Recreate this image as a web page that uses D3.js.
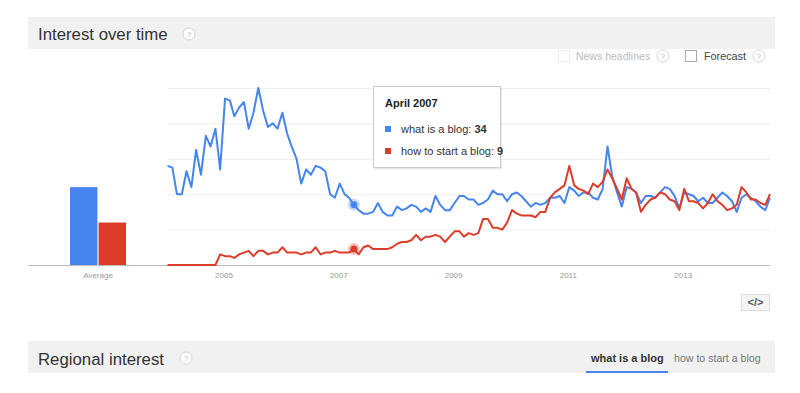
<!DOCTYPE html>
<html>
<head>
<meta charset="utf-8">
<script src="https://cdn.jsdelivr.net/npm/d3@7"></script>
<style>
  body { margin: 0; background: #fff; }
  svg { display: block; font-family: "Liberation Sans", Arial, sans-serif; }
</style>
</head>
<body>
<svg class="trends" width="800" height="393"></svg>
<script>
// monthly values, Jan 2004 .. Jul 2014
var seriesNames = ["what is a blog", "how to start a blog"];
var colors = ["#4684ee", "#dc3d2a"];
var averages = [44, 24];
var blogWhat = [56,55,40,40,53,44,65,51,73,67,77,54,
  94,93,84,89,92,77,86,100,87,78,80,77,
  86,74,67,60,46,54,51,56,55,53,40,38,
  46,40,38,34,31,29,29,30,35,30,28,28,
  33,31,32,34,33,30,32,30,39,34,31,31,
  35,39,39,37,37,34,35,37,42,40,40,36,
  40,41,39,36,33,35,34,35,38,38,39,35,
  44,42,39,41,41,38,37,43,67,50,41,33,
  44,43,41,35,39,39,38,41,44,43,39,32,
  41,40,39,36,38,35,35,38,41,39,36,30,
  38,40,38,36,33,31,38];
var blogStart = [0,0,0,0,0,0,0,0,0,0,0,6,
  5,5,4,6,7,8,5,8,8,6,7,7,
  10,7,7,7,6,7,7,10,6,7,7,8,
  7,7,7,9,6,10,11,9,9,9,9,10,
  12,13,13,14,17,14,16,16,17,16,13,16,
  19,19,16,18,17,18,26,26,21,21,20,24,
  31,29,28,28,28,27,30,30,38,41,43,45,
  56,45,43,42,40,46,44,47,54,49,43,37,
  49,43,41,30,34,37,38,41,40,37,36,31,
  43,36,36,35,32,35,40,36,34,31,32,34,
  44,41,37,37,35,34,40];
var yearTicks = [2005, 2007, 2009, 2011, 2013];
var hoverIndex = 39; // April 2007

var months = blogWhat.map(function(d, i) { return new Date(2004, i, 1); });

var svg = d3.select('.trends');

var x = d3.scaleTime()
  .domain([months[0], months[months.length - 1]])
  .range([167.5, 770]);
var y = d3.scaleLinear().domain([0, 100]).range([265, 88]);

function helpIcon(g, cx, cy) {
  g.append('circle').attr('cx', cx).attr('cy', cy).attr('r', 6)
    .attr('fill', '#fff').attr('stroke', '#d4d4d4');
  g.append('text').attr('x', cx).attr('y', cy + 3).attr('text-anchor', 'middle')
    .attr('font-size', 8).attr('fill', '#bbb').text('?');
}

// header band
svg.append('rect').attr('x', 28).attr('y', 17).attr('width', 747).attr('height', 32).attr('fill', '#f1f1f1');
svg.append('text').attr('x', 38).attr('y', 40).attr('font-size', 16.8).attr('fill', '#333').text('Interest over time');
helpIcon(svg, 189, 34);

// news headlines / forecast options
svg.append('rect').attr('x', 558.5).attr('y', 50.5).attr('width', 11).attr('height', 11)
  .attr('fill', '#fff').attr('stroke', '#eee');
svg.append('text').attr('x', 576).attr('y', 60).attr('font-size', 10.5).attr('fill', '#bbb').text('News headlines');
helpIcon(svg, 663, 56);
svg.append('rect').attr('x', 685.5).attr('y', 50.5).attr('width', 11).attr('height', 11)
  .attr('fill', '#fff').attr('stroke', '#aaa');
svg.append('text').attr('x', 704).attr('y', 60).attr('font-size', 10.8).attr('fill', '#444').text('Forecast');
helpIcon(svg, 759, 56);

// gridlines
svg.append('g').selectAll('line').data(d3.range(0, 101, 20)).enter().append('line')
  .attr('x1', 168).attr('x2', 770)
  .attr('y1', function(d) { return y(d) + 0.5; }).attr('y2', function(d) { return y(d) + 0.5; })
  .attr('stroke', '#eee');

// average bars
var xb = d3.scaleBand().domain(seriesNames).range([70, 126]).paddingInner(0.04);
svg.append('g').selectAll('rect').data(averages).enter().append('rect')
  .attr('x', function(d, i) { return xb(seriesNames[i]); })
  .attr('width', xb.bandwidth())
  .attr('y', function(d) { return y(d); })
  .attr('height', function(d) { return y(0) - y(d); })
  .attr('fill', function(d, i) { return colors[i]; });
svg.append('text').attr('x', 98).attr('y', 278).attr('text-anchor', 'middle')
  .attr('font-size', 8).attr('fill', '#999').text('Average');

// baseline
svg.append('line').attr('x1', 28).attr('x2', 770).attr('y1', 265.5).attr('y2', 265.5).attr('stroke', '#bbb');

// year labels
svg.append('g').selectAll('text').data(yearTicks).enter().append('text')
  .attr('x', function(d) { return x(new Date(d, 0, 1)) - 1; })
  .attr('y', 278).attr('text-anchor', 'middle')
  .attr('font-size', 8).attr('fill', '#999')
  .text(function(d) { return d; });

// lines
var line = d3.line()
  .x(function(d, i) { return x(months[i]); })
  .y(function(d) { return y(d); });
[blogWhat, blogStart].forEach(function(s, k) {
  svg.append('path').datum(s)
    .attr('d', line)
    .attr('fill', 'none')
    .attr('stroke', colors[k])
    .attr('stroke-width', 2)
    .attr('stroke-linejoin', 'round');
});

// hover dots
[blogWhat, blogStart].forEach(function(s, k) {
  var cx = x(months[hoverIndex]), cy = y(s[hoverIndex]);
  svg.append('circle').attr('cx', cx).attr('cy', cy).attr('r', 6).attr('fill', colors[k]).attr('opacity', 0.3);
  svg.append('circle').attr('cx', cx).attr('cy', cy).attr('r', 3.5).attr('fill', colors[k]);
});

// tooltip
var tip = svg.append('g').attr('transform', 'translate(373,86)');
tip.append('rect').attr('x', 1).attr('y', 1.5).attr('width', 128).attr('height', 82)
  .attr('fill', '#000').attr('opacity', 0.08);
tip.append('rect').attr('x', 0.5).attr('y', 0.5).attr('width', 127).attr('height', 81)
  .attr('fill', '#fff').attr('stroke', '#ccc');
tip.append('text').attr('x', 12).attr('y', 21).attr('font-size', 11).attr('font-weight', 'bold')
  .attr('fill', '#222').text('April 2007');
[blogWhat, blogStart].forEach(function(s, k) {
  var ty = 47 + k * 22;
  tip.append('rect').attr('x', 12).attr('y', ty - 7).attr('width', 6).attr('height', 6).attr('fill', colors[k]);
  var t = tip.append('text').attr('x', 28).attr('y', ty).attr('font-size', 11).attr('fill', '#333');
  t.append('tspan').text(seriesNames[k] + ': ');
  t.append('tspan').attr('font-weight', 'bold').text(s[hoverIndex]);
});

// embed button
svg.append('rect').attr('x', 741.5).attr('y', 294.5).attr('width', 28).attr('height', 16)
  .attr('fill', '#f5f5f5').attr('stroke', '#ddd');
svg.append('text').attr('x', 755.5).attr('y', 306).attr('text-anchor', 'middle')
  .attr('font-size', 11).attr('font-weight', 'bold').attr('fill', '#555').text('</>');

// regional interest band
svg.append('rect').attr('x', 28).attr('y', 341).attr('width', 747).attr('height', 32).attr('fill', '#f1f1f1');
svg.append('text').attr('x', 38).attr('y', 365).attr('font-size', 16.8).attr('fill', '#333').text('Regional interest');
helpIcon(svg, 186, 358);
svg.append('text').attr('x', 591).attr('y', 362).attr('font-size', 11).attr('font-weight', 'bold')
  .attr('fill', '#333').text(seriesNames[0]);
svg.append('text').attr('x', 674).attr('y', 362).attr('font-size', 10.6)
  .attr('fill', '#777').text(seriesNames[1]);
svg.append('rect').attr('x', 586).attr('y', 371).attr('width', 82).attr('height', 2).attr('fill', '#4a86e8');
</script>
</body>
</html>
